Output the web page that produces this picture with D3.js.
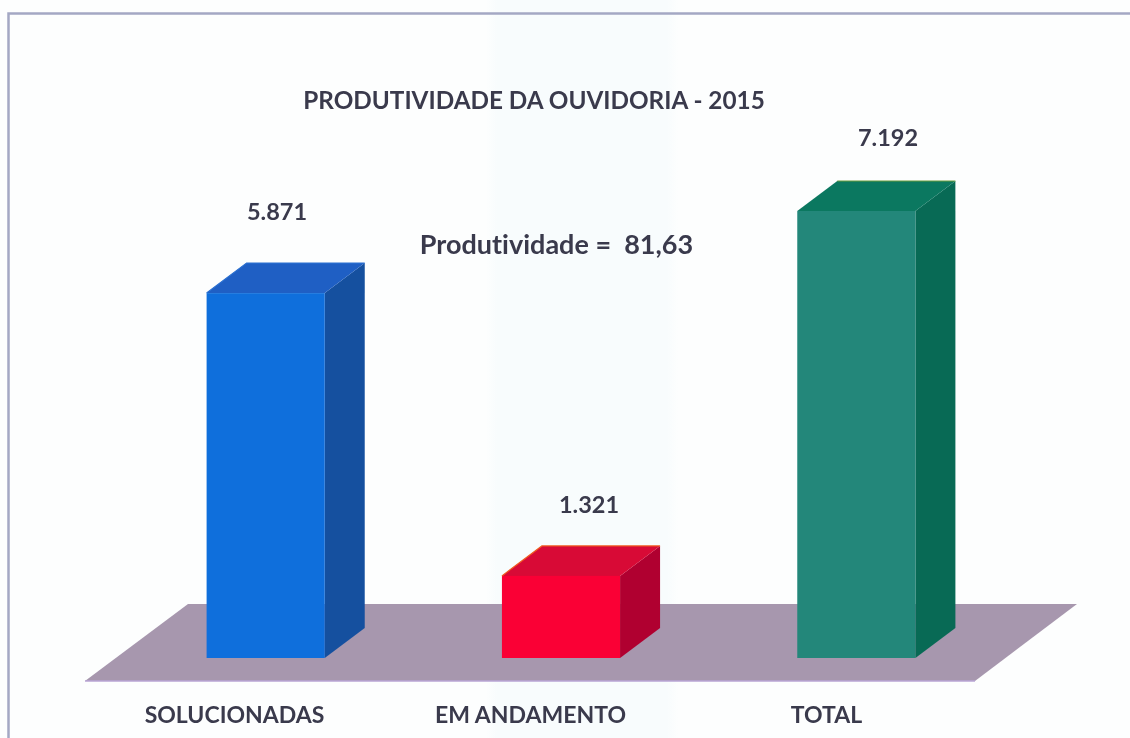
<!DOCTYPE html>
<html><head><meta charset="utf-8">
<script src="https://cdn.jsdelivr.net/npm/d3@7"></script>
<style>html,body{margin:0;padding:0;background:#fdfefe;overflow:hidden}
text{white-space:pre;font-variant-ligatures:none;font-feature-settings:"liga" 0}
svg{filter:blur(0.5px)}</style>
</head><body><div id="c"></div>
<script>
const categories = ["SOLUCIONADAS","EM ANDAMENTO","TOTAL"];
const values = [5871,1321,7192];
const valueLabels = ["5.871","1.321","7.192"];
const frontColors = ["#0f6fdc","#fa0035","#23877a"];
const topColors = ["#1f5fc4","#d80a36","#0b7860"];
const sideColors = ["#15509f","#b00030","#086a55"];
const edgeColors = ["#2a6fd0","#f05a20","#6d9c3c"];
const title = "PRODUTIVIDADE DA OUVIDORIA - 2015";
const note = "Produtividade =  81,63";

const W=1130,H=738,base=658,dx=40,dy=30;
const svg=d3.select("#c").append("svg").attr("width",W).attr("height",H).style("display","block");
const font="Lato, Carlito, sans-serif", ink="#3a3a4c";
const x=d3.scaleBand().domain(categories).range([118,1004]).paddingInner(0.6).paddingOuter(0.3);
const y=d3.scaleLinear().domain([0,7192]).range([base,211]);

const defs=svg.append("defs");
const g=defs.append("linearGradient").attr("id","wash");
[[0,"#fdfefe"],[0.43,"#fdfefe"],[0.44,"#f8fcfd"],[0.59,"#f8fcfd"],[0.6,"#fdfefe"],[1,"#fdfefe"]].forEach(s=>g.append("stop").attr("offset",s[0]).attr("stop-color",s[1]));
svg.append("rect").attr("width",W).attr("height",H).attr("fill","url(#wash)");
svg.append("path").attr("d","M8.5,738V13.5H1130").attr("fill","none").attr("stroke","#a4a8c4").attr("stroke-width",2.5);

svg.append("polygon").attr("points","85,681 975,681 1077,604 188,604").attr("fill","#a797ae");
svg.append("line").attr("x1",85).attr("x2",975).attr("y1",681).attr("y2",681).attr("stroke","#b9a5d4").attr("stroke-width",1.5);

const bars=svg.selectAll("g.bar").data(categories).join("g").attr("class","bar");
const w=x.bandwidth();
bars.append("polygon").attr("fill",(d,i)=>sideColors[i]).attr("points",(d,i)=>{const r=x(d)+w,t=y(values[i]);return [[r,base],[r+dx,base-dy],[r+dx,t-dy],[r,t]].join(" ")});
bars.append("polygon").attr("fill",(d,i)=>topColors[i]).attr("points",(d,i)=>{const l=x(d),t=y(values[i]);return [[l,t],[l+w,t],[l+w+dx,t-dy],[l+dx,t-dy]].join(" ")});
bars.append("rect").attr("fill",(d,i)=>frontColors[i]).attr("x",d=>x(d)).attr("width",w).attr("y",(d,i)=>y(values[i])).attr("height",(d,i)=>base-y(values[i]));
bars.append("path").attr("fill","none").attr("stroke",(d,i)=>edgeColors[i]).attr("stroke-width",1.2).attr("d",(d,i)=>{const l=x(d),t=y(values[i]);return i===2?`M${l+dx},${t-dy}H${l+w+dx}`:`M${l},${t}L${l+dx},${t-dy}H${l+w+dx}`});

const txt=(t,xx,yy,s)=>svg.append("text").text(t).attr("x",xx).attr("y",yy).attr("font-family",font).attr("font-weight",700).attr("font-size",s).attr("fill",ink).attr("text-anchor","middle");
txt(title,534,109,24.3);
txt(note,556.5,254,27);
const labelX=[234.5,530.5,826.5], valueX=[277,589,888], valueLift=[73,63,65];
categories.forEach((c,i)=>{
  txt(c,labelX[i],723,23);
  txt(valueLabels[i],valueX[i],y(values[i])-valueLift[i],23.5);
});
</script></body></html>
